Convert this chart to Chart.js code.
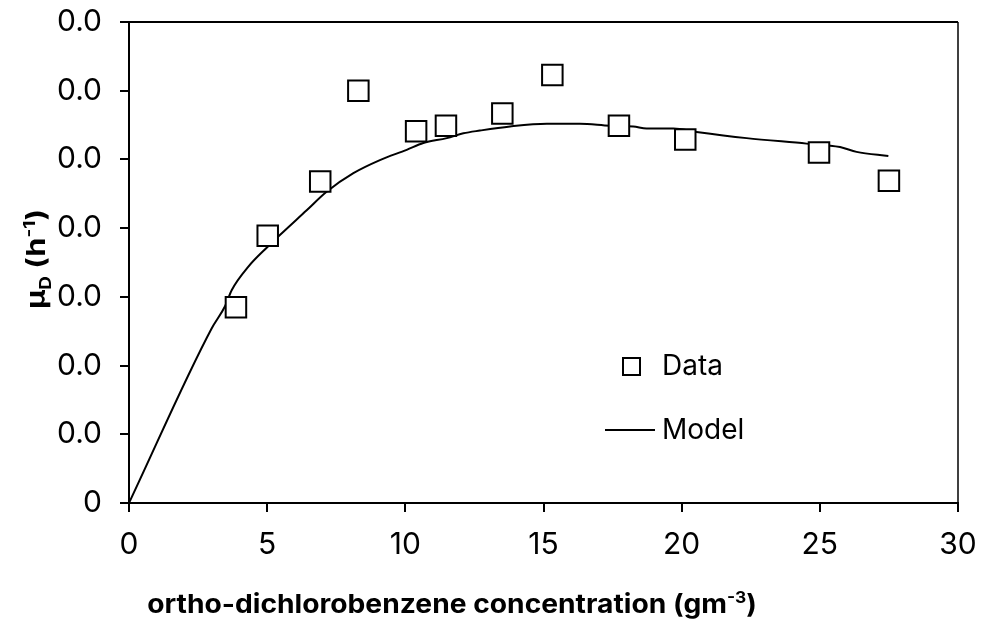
<!DOCTYPE html>
<html>
<head>
<meta charset="utf-8">
<script src="https://cdn.jsdelivr.net/npm/chart.js@4"></script>
<style>
  html, body { margin: 0; padding: 0; background: #fff; }
  #wrap { width: 981px; height: 629px; position: relative; }
</style>
</head>
<body>
<div id="wrap"><canvas id="chart"></canvas></div>
<script>
// measured points
const dataX = [3.87, 5.02, 6.92, 8.30, 10.39, 11.47, 13.51, 15.32, 17.73, 20.13, 24.97, 27.50];
const dataY = [0.00285, 0.00389, 0.00468, 0.00600, 0.00541, 0.00549, 0.00567, 0.00623, 0.00549, 0.00529, 0.00510, 0.00469];

// model curve
const modelX = [0, 2.99, 3.47, 3.72, 4.32, 5.02, 5.46, 6.43, 7.15, 8.12, 9.08, 10.05, 10.65, 11.50, 12.10,
    12.70, 13.79, 15.12, 16.32, 17.41, 18.25, 18.73, 19.70, 20.54, 22.35, 24.52, 25.73, 26.33, 27.48];
const modelY = [0, 0.00254, 0.00286, 0.00310, 0.00344, 0.00373, 0.00390, 0.00426, 0.00453, 0.00480, 0.00499,
    0.00514, 0.00524, 0.00531, 0.00538, 0.00542, 0.00548, 0.00552, 0.00552, 0.00549, 0.00548, 0.00545,
    0.00545, 0.00540, 0.00531, 0.00523, 0.00518, 0.00511, 0.00505];

const xTicks = [0, 5, 10, 15, 20, 25, 30];
const yMax = 0.007;
const yStep = 0.001;

const FONT = "Inter";

// text with sub/superscript pieces, centred on the origin
function drawRich(ctx, parts, size, weight, stretch) {
    const widths = parts.map(p => {
        ctx.font = `${weight} ${p.small ? Math.round(size * 0.62) : size}px ${FONT}`;
        return ctx.measureText(p.t).width;
    });
    const total = widths.reduce((a, b) => a + b, 0);
    ctx.scale(stretch, 1);
    let x = -total / 2;
    parts.forEach((p, i) => {
        ctx.font = `${weight} ${p.small ? Math.round(size * 0.62) : size}px ${FONT}`;
        let dy = 0;
        if (p.sub) dy = size * 0.22;
        if (p.sup) dy = -size * 0.38;
        ctx.fillText(p.t, x, dy);
        x += widths[i];
    });
}

const extras = {
    id: "extras",
    afterDraw(chart) {
        const ctx = chart.ctx;
        const a = chart.chartArea;
        ctx.save();
        ctx.strokeStyle = "#000";
        ctx.fillStyle = "#000";

        // frame top / right
        ctx.lineWidth = 2;
        ctx.beginPath();
        ctx.moveTo(a.left, a.top);
        ctx.lineTo(a.right, a.top);
        ctx.stroke();
        ctx.lineWidth = 1.5;
        ctx.beginPath();
        ctx.moveTo(a.right, a.top);
        ctx.lineTo(a.right, a.bottom);
        ctx.stroke();

        // legend
        ctx.lineWidth = 2;
        ctx.strokeRect(623, 358, 17, 17);
        ctx.beginPath();
        ctx.moveTo(605, 430);
        ctx.lineTo(655, 430);
        ctx.stroke();
        ctx.font = `28px ${FONT}`;
        ctx.textAlign = "left";
        ctx.textBaseline = "middle";
        ctx.fillText("Data", 662, 367);
        ctx.fillText("Model", 662, 431);

        // axis titles
        ctx.textBaseline = "alphabetic";
        ctx.save();
        ctx.translate(452, 613);
        drawRich(ctx, [
            { t: "ortho-dichlorobenzene concentration (gm" },
            { t: "-3", small: true, sup: true },
            { t: ")" }
        ], 26, "bold", 1.085);
        ctx.restore();

        ctx.save();
        ctx.translate(45, 259);
        ctx.rotate(-Math.PI / 2);
        drawRich(ctx, [
            { t: "μ" },
            { t: "D", small: true, sub: true },
            { t: " (h" },
            { t: "-1", small: true, sup: true },
            { t: ")" }
        ], 26, "bold", 1.18);
        ctx.restore();

        ctx.restore();
    }
};

new Chart(document.getElementById("chart"), {
    type: "scatter",
    data: {
        datasets: [
            {
                label: "Data",
                data: dataX.map((x, i) => ({ x, y: dataY[i] })),
                pointStyle: "rect",
                pointRadius: 14.5,
                pointHoverRadius: 14.5,
                borderWidth: 2,
                borderColor: "#000",
                backgroundColor: "#fff",
                showLine: false
            },
            {
                label: "Model",
                data: modelX.map((x, i) => ({ x, y: modelY[i] })),
                showLine: true,
                pointRadius: 0,
                borderWidth: 2,
                borderColor: "#000",
                backgroundColor: "#000",
                cubicInterpolationMode: "monotone"
            }
        ]
    },
    options: {
        responsive: true,
        maintainAspectRatio: false,
        animation: false,
        layout: { padding: { left: 0, top: 22, right: 23, bottom: 0 } },
        plugins: {
            legend: { display: false },
            tooltip: { enabled: false }
        },
        scales: {
            x: {
                type: "linear",
                min: 0,
                max: 30,
                afterBuildTicks: s => { s.ticks = xTicks.map(v => ({ value: v })); },
                afterFit: s => { s.height = 126; s.paddingLeft = 0; s.paddingRight = 0; },
                grid: { drawOnChartArea: false, drawTicks: true, tickLength: 9, color: "#000", lineWidth: 2 },
                border: { display: true, color: "#000", width: 2 },
                ticks: { color: "#000", font: { family: FONT, size: 30 }, padding: 15, maxRotation: 0 }
            },
            y: {
                type: "linear",
                min: 0,
                max: yMax,
                ticks: {
                    stepSize: yStep,
                    color: "#000",
                    font: { family: FONT, size: 30 },
                    padding: 18,
                    callback: v => v === 0 ? "0" : v.toFixed(1)
                },
                afterFit: s => { s.width = 129; s.paddingTop = 0; s.paddingBottom = 0; },
                grid: { drawOnChartArea: false, drawTicks: true, tickLength: 9, color: "#000", lineWidth: 2 },
                border: { display: true, color: "#000", width: 2 }
            }
        }
    },
    plugins: [extras]
});
</script>
</body>
</html>
